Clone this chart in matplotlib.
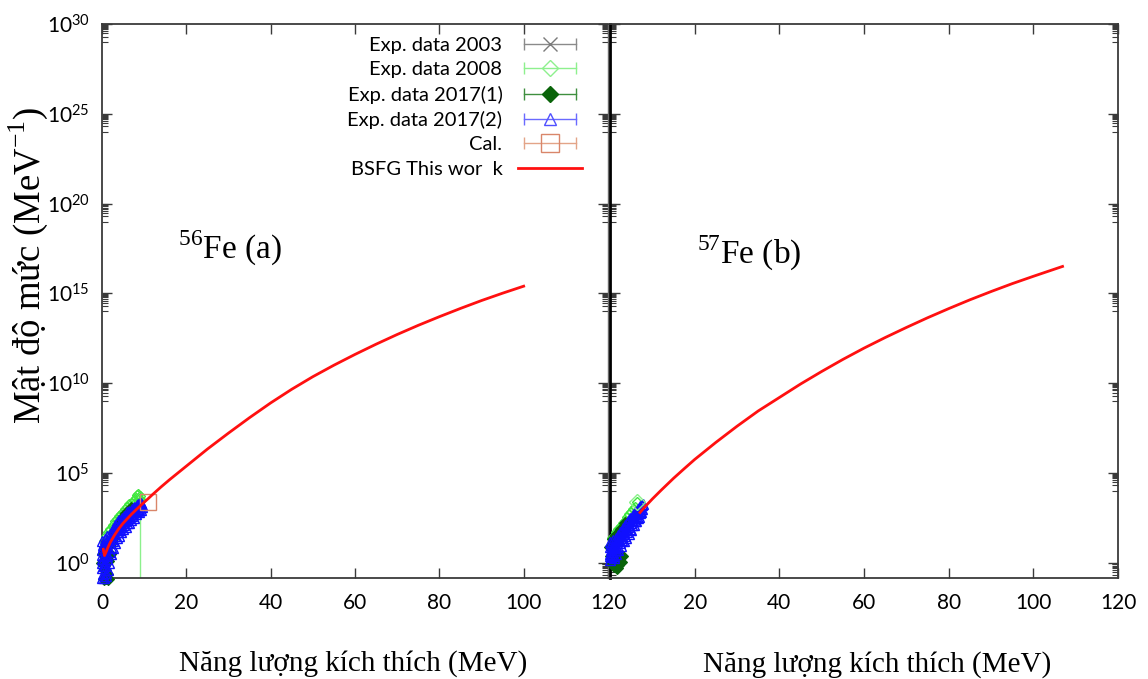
import numpy as np
import matplotlib
matplotlib.use("Agg")
import matplotlib.pyplot as plt
from matplotlib.lines import Line2D
from matplotlib.legend_handler import HandlerLine2D
from matplotlib.ticker import FixedLocator, LogFormatterSciNotation, NullFormatter

plt.rcParams['font.family'] = ['Lato', 'DejaVu Sans']
SERIF = ['Liberation Serif', 'DejaVu Serif']

# ---------------- data: excitation energy (MeV) and log10 level density ----------------
# 56Fe
fe56_2003_x = [0.4, 1.3, 2.4, 3.4, 4.4, 5.4, 6.4, 7.4]
fe56_2003_log = [0.2, 0.9, 1.4, 1.8, 2.2, 2.5, 2.8, 3.0]

fe56_2008_x = [0.5, 1.0, 1.5, 1.8, 2.0, 2.5, 2.8, 3.0, 3.5, 3.8, 4.0, 4.5, 4.8, 5.0,
               5.5, 5.8, 6.0, 6.5, 6.8, 7.0, 7.5, 7.8, 8.0, 8.3, 8.6, 8.8, 9.0, 9.2]
fe56_2008_log = [1.2, 1.5, 1.7, 1.6, 1.9, 2.1, 2.0, 2.3, 2.45, 2.3, 2.6, 2.7, 2.5, 2.85,
                 3.0, 2.8, 3.1, 3.25, 3.1, 3.35, 3.5, 3.3, 3.6, 3.75, 3.85, 3.55, 3.7, 3.5]
fe56_2008_bar_x = [9.0]
fe56_2008_bar_log = [3.3]
fe56_2008_bar_lo = [-3.0]
fe56_2008_bar_hi = [3.6]

fe56_2017a_x = [0.0, 0.3, 0.5, 0.6, 0.8, 1.0, 1.2, 1.4, 1.5, 1.8, 2.2, 2.7, 3.2, 3.7,
                4.2, 4.8, 5.3, 5.8, 6.3, 6.8]
fe56_2017a_log = [0.0, 0.5, -0.9, 0.9, -0.4, -0.85, -0.6, -0.9, 0.1, 0.5, 1.1, 1.4, 1.7, 2.0,
                  2.2, 2.4, 2.6, 2.75, 2.9, 3.05]

fe56_2017b_x = [0.0, 0.0, 0.0, 0.0, 0.0, 0.2, 0.3, 0.5, 0.5, 0.7, 0.8, 0.9, 1.0, 1.0,
                1.2, 1.3, 1.5, 1.6, 1.8, 2.0, 2.1, 2.3, 2.5, 2.6, 2.8, 3.0, 3.1, 3.3,
                3.5, 3.6, 3.8, 4.0, 4.1, 4.3, 4.5, 4.7, 4.9, 5.0, 5.2, 5.5, 5.7, 5.9,
                6.1, 6.3, 6.5, 6.7, 6.9, 7.1, 7.3, 7.5, 7.7, 7.9, 8.1, 8.3, 8.5, 8.7,
                8.9, 9.1, 9.3, 9.5,
                0.1, 0.1, 0.2, 0.4, 0.6, 0.7, 0.9, 1.1, 1.1, 1.4, 1.7, 1.9, 2.2, 2.4,
                2.7, 2.9, 3.2, 3.4, 3.7, 3.9, 4.2, 4.4, 4.6, 4.8, 5.1, 5.3, 5.6, 5.8,
                6.0, 6.2, 6.4, 6.6, 6.8, 7.0, 7.2, 7.4, 7.6, 7.8, 8.0, 8.2, 8.4, 8.6,
                8.8, 9.0, 9.2, 9.4]
fe56_2017b_log = [-0.85, -0.3, 0.2, 0.7, 1.2, -0.6, 0.9, -0.85, 0.4, 1.3, -0.2, 0.6, -0.75, 1.0,
                  1.5, 0.2, -0.4, 1.2, 0.6, 1.6, 0.9, 1.3, 1.9, 0.8, 1.6, 2.1, 1.1, 1.8,
                  1.4, 2.2, 1.9, 1.5, 2.4, 2.0, 1.7, 2.5, 2.2, 1.9, 2.6, 2.3, 2.0, 2.8,
                  2.5, 2.2, 2.9, 2.6, 2.4, 3.0, 2.8, 2.5, 3.1, 2.9, 2.7, 3.2, 3.0, 2.8,
                  3.3, 3.1, 2.95, 3.2,
                  0.0, 0.45, 1.0, -0.2, 0.1, 0.75, -0.55, 0.35, 1.25, 0.8, 0.0, 1.3, 0.5, 1.6,
                  1.2, 1.9, 1.5, 2.0, 1.7, 2.3, 1.8, 2.2, 2.0, 2.4, 2.3, 2.1, 2.6, 2.4,
                  2.2, 2.7, 2.5, 2.8, 2.7, 2.6, 2.9, 2.7, 3.0, 2.8, 3.1, 2.9, 3.1, 3.25,
                  3.0, 3.2, 3.35, 3.1]

fe56_cal_x = [11.0]
fe56_cal_log = [3.4]

fe56_bsfg_x = [0.3, 0.6, 1.0, 1.5, 2.0, 3.0, 4.0, 5.0, 6.0, 7.0, 8.0, 9.0, 10.0, 11.0,
               12.0, 13.0, 14.0, 16.0, 18.0, 20.0, 25.0, 30.0, 35.0, 40.0, 45.0, 50.0,
               55.0, 60.0, 65.0, 70.0, 75.0, 80.0, 85.0, 90.0, 95.0, 100.0]
fe56_bsfg_log = [0.75, 0.4, 0.62, 0.9, 1.15, 1.55, 1.9, 2.2, 2.45, 2.7, 2.93, 3.15, 3.37, 3.58,
                 3.8, 4.01, 4.22, 4.62, 5.0, 5.38, 6.33, 7.22, 8.08, 8.9, 9.66, 10.36,
                 11.0, 11.6, 12.17, 12.71, 13.22, 13.7, 14.16, 14.6, 15.01, 15.4]

# 57Fe
fe57_2003_x = [0.5, 1.5, 2.5, 3.5, 4.5, 5.5]
fe57_2003_log = [0.6, 1.0, 1.4, 1.8, 2.2, 2.5]

fe57_2008_x = [0.5, 1.0, 1.5, 2.0, 2.5, 3.0, 3.5, 4.0, 4.5, 5.0, 5.5, 6.0, 6.4]
fe57_2008_log = [1.35, 1.5, 1.7, 1.9, 2.05, 2.2, 2.35, 2.55, 2.7, 2.85, 3.0, 3.1, 3.4]

fe57_2017a_x = [0.0, 0.3, 0.6, 1.0, 1.3, 1.6, 2.0, 2.3, 2.6, 2.8, 0.8, 1.5, 2.5, 3.5]
fe57_2017a_log = [0.9, 0.4, 0.0, -0.2, 0.2, -0.3, -0.1, 0.3, 0.05, 0.35, 1.3, 1.55, 1.9, 2.2]

fe57_2017b_x = [0.0, 0.0, 0.0, 0.0, 0.3, 0.4, 0.6, 0.8, 1.0, 1.1, 1.3, 1.5, 1.6, 1.8,
                2.0, 2.2, 2.4, 2.6, 2.8, 3.0, 3.2, 3.4, 3.6, 3.8, 4.0, 4.2, 4.4, 4.6,
                4.8, 5.0, 5.2, 5.4, 5.6, 5.8, 6.0, 6.2, 6.4, 6.6, 6.8, 7.0, 7.2, 7.4, 7.5,
                0.1, 0.2, 0.2, 0.5, 0.7, 0.9, 1.2, 1.4, 1.7, 1.9, 2.1, 2.3, 2.5, 2.7,
                2.9, 3.1, 3.3, 3.5, 3.7, 3.9, 4.1, 4.3, 4.5, 4.7, 4.9, 5.1, 5.3, 5.5,
                5.7, 5.9, 6.1, 6.3, 6.5, 6.7, 6.9, 7.1, 7.3, 7.6, 7.8]
fe57_2017b_log = [0.15, 0.5, 0.85, 1.15, 0.3, 0.95, 0.6, 1.25, 0.25, 0.8, 1.4, 0.5, 1.1, 1.55,
                  0.7, 1.3, 1.7, 0.95, 1.5, 1.95, 1.2, 1.7, 2.1, 1.35, 1.9, 2.3, 1.6, 2.1,
                  2.5, 1.85, 2.3, 2.65, 2.1, 2.5, 2.85, 2.35, 2.7, 3.0, 2.55, 2.9, 3.15, 2.8, 3.0,
                  0.35, 0.7, 1.05, 0.45, 0.9, 0.4, 1.0, 0.7, 1.3, 0.9, 1.5, 1.1, 1.4, 1.7,
                  1.25, 1.6, 1.9, 1.5, 1.8, 2.2, 1.7, 2.0, 2.4, 1.9, 2.2, 2.5, 2.1, 2.4,
                  2.7, 2.3, 2.6, 2.9, 2.5, 2.8, 3.05, 2.75, 3.0, 3.2, 3.25]

fe57_bsfg_x = [7.1, 8.0, 9.0, 10.0, 12.0, 15.0, 17.5, 20.0, 25.0, 30.0, 35.0, 40.0, 45.0,
               50.0, 55.0, 60.0, 65.0, 70.0, 75.0, 80.0, 85.0, 90.0, 95.0, 100.0, 106.9]
fe57_bsfg_log = [2.8, 3.05, 3.3, 3.55, 4.02, 4.7, 5.23, 5.75, 6.7, 7.6, 8.45, 9.2, 9.95,
                 10.65, 11.32, 11.95, 12.54, 13.1, 13.64, 14.15, 14.64, 15.1, 15.54, 15.95, 16.5]

x_ticks = [0, 20, 40, 60, 80, 100, 120]
y_major_exp = [0, 5, 10, 15, 20, 25, 30]

# ---------------- styles ----------------
C_GRAY = '#7a7a7a'
C_LGREEN = '#3fe83f'
C_DGREEN = '#0a640a'
C_BLUE = '#1010ff'
C_CAL = '#d9866a'
C_RED = '#ff1010'
SPINE = '#3a3a3a'

W, H = 1148, 679
fig = plt.figure(figsize=(W / 100, H / 100), dpi=100)
bottom = 1 - 578 / H
height = 554 / H
axL = fig.add_axes([102 / W, bottom, 506 / W, height])
axR = fig.add_axes([610 / W, bottom, 508 / W, height])


def pow10(v):
    return 10.0 ** np.asarray(v, dtype=float)


def setup(ax, show_ylabels, xlabels):
    ax.set_yscale('log')
    ax.set_xlim(0, 120)
    ax.set_ylim(10 ** -0.85, 1e30)
    ax.xaxis.set_major_locator(FixedLocator(x_ticks))
    ax.set_xticklabels(xlabels)
    majors = [10.0 ** e for e in y_major_exp]
    minors = [k * 10.0 ** (e - 1) for e in y_major_exp for k in range(1, 10)]
    ax.yaxis.set_major_locator(FixedLocator(majors))
    ax.yaxis.set_minor_locator(FixedLocator(minors))
    ax.yaxis.set_minor_formatter(NullFormatter())
    if show_ylabels:
        ax.yaxis.set_major_formatter(LogFormatterSciNotation())
    else:
        ax.yaxis.set_major_formatter(NullFormatter())
    ax.tick_params(which='major', direction='in', top=True, right=True, length=7,
                   width=1.0, color=SPINE, labelsize=15)
    ax.tick_params(which='minor', direction='in', left=True, right=True, length=4,
                   width=0.8, color=SPINE)
    ax.tick_params(axis='x', pad=11)
    ax.tick_params(axis='y', pad=9)
    for s in ax.spines.values():
        s.set_color(SPINE)
        s.set_linewidth(1.3)


setup(axL, True, [str(v) for v in x_ticks])
setup(axR, False, [''] + [str(v) for v in x_ticks[1:]])
axL.spines['right'].set_color('#6a6a6a')
axL.spines['right'].set_linewidth(1.0)
axR.spines['left'].set_color('black')
axR.spines['left'].set_linewidth(2.0)


def draw_panel(ax, d2003, d2008, d2017a, d2017b):
    kw = dict(ls='none', clip_on=False)
    ax.plot(d2003[0], pow10(d2003[1]), marker='x', ms=6, mew=1.0, color=C_GRAY,
            zorder=2, **kw)
    ax.plot(d2008[0], pow10(d2008[1]), marker='D', ms=5.5, mew=1.0, mfc='none',
            mec=C_LGREEN, zorder=3, **kw)
    ax.plot(d2017a[0], pow10(d2017a[1]), marker='D', ms=6, mew=0.8, mfc=C_DGREEN,
            mec=C_DGREEN, zorder=4, **kw)
    ax.plot(d2017b[0], pow10(d2017b[1]), marker='^', ms=7, mew=1.0, mfc='none',
            mec=C_BLUE, zorder=5, **kw)


draw_panel(axL, (fe56_2003_x, fe56_2003_log), (fe56_2008_x, fe56_2008_log),
           (fe56_2017a_x, fe56_2017a_log), (fe56_2017b_x, fe56_2017b_log))
bar_y = pow10(fe56_2008_bar_log)
axL.errorbar(fe56_2008_bar_x, bar_y,
             yerr=[bar_y - pow10(fe56_2008_bar_lo), pow10(fe56_2008_bar_hi) - bar_y],
             fmt='none', ecolor='#8cf08c', elinewidth=1.0, capsize=3, zorder=2)
axL.plot(fe56_cal_x, pow10(fe56_cal_log), ls='none', marker='s', ms=11, mew=1.0,
         mfc='none', mec=C_CAL, zorder=6)
axL.plot(fe56_bsfg_x, pow10(fe56_bsfg_log), color=C_RED, lw=2.0, zorder=7)

draw_panel(axR, (fe57_2003_x, fe57_2003_log), (fe57_2008_x, fe57_2008_log),
           (fe57_2017a_x, fe57_2017a_log), (fe57_2017b_x, fe57_2017b_log))
axR.plot(fe57_2008_x[-1:], pow10(fe57_2008_log[-1:]), ls='none', marker='D', ms=8,
         mew=1.0, mfc='none', mec='#8cf08c', zorder=6)
axR.plot(fe57_bsfg_x, pow10(fe57_bsfg_log), color=C_RED, lw=2.0, zorder=7)

# ---------------- legend (marker centred on a capped horizontal bar) ----------------
hmap = {}
handles = []
entries = [
    ('x', C_GRAY, C_GRAY, 'none', '#8a8a8a', 10),
    ('D', C_LGREEN, '#8ef08e', 'none', '#8ef08e', 8),
    ('D', C_DGREEN, C_DGREEN, C_DGREEN, '#3f8f3f', 8),
    ('^', C_BLUE, '#5050ff', 'none', '#6a6aff', 9),
    ('s', C_CAL, C_CAL, 'none', '#e3a488', 13),
]
for marker, col, mec, mfc, lcol, ms in entries:
    bar = Line2D([], [], color=lcol, lw=1.0, marker='|', ms=8, mew=1.0)
    mk = Line2D([], [], ls='none', marker=marker, ms=ms, mec=mec, mfc=mfc, mew=1.0)
    hmap[bar] = HandlerLine2D(numpoints=2)
    hmap[mk] = HandlerLine2D(numpoints=1)
    handles.append((bar, mk))
handles.append(Line2D([], [], color=C_RED, lw=2.0))
labels = ['Exp. data 2003', 'Exp. data 2008', 'Exp. data 2017(1)',
          'Exp. data 2017(2)', 'Cal.', 'BSFG This wor  k']
axL.legend(handles, labels, handler_map=hmap, loc='upper right',
           bbox_to_anchor=((582 - 102) / 506, (578 - 37) / 554), frameon=False,
           markerfirst=False, fontsize=14.5, handlelength=3.2, handletextpad=0.75,
           labelspacing=0.36, borderpad=0, borderaxespad=0)

# ---------------- labels ----------------
fig.text(178 / W, 1 - 259 / H, '$^{\\mathdefault{56}}$Fe (a)', family=SERIF,
         fontsize=24, ha='left', va='baseline')
fig.text(697 / W, 1 - 264 / H, '$^{\\mathdefault{57}}$Fe (b)', family=SERIF,
         fontsize=24, ha='left', va='baseline')

fig.text(353 / W, 1 - 671 / H, 'Năng lượng kích thích (MeV)', family=SERIF,
         fontsize=21, ha='center', va='baseline')
fig.text(877 / W, 1 - 672 / H, 'Năng lượng kích thích (MeV)', family=SERIF,
         fontsize=21, ha='center', va='baseline')
fig.text(28 / W, 1 - 265 / H, 'Mật độ mức (MeV$^{\\mathdefault{-1}}$)', family=SERIF,
         fontsize=26.5, rotation=90, ha='center', va='center')

fig.savefig('out.png', dpi=100)
